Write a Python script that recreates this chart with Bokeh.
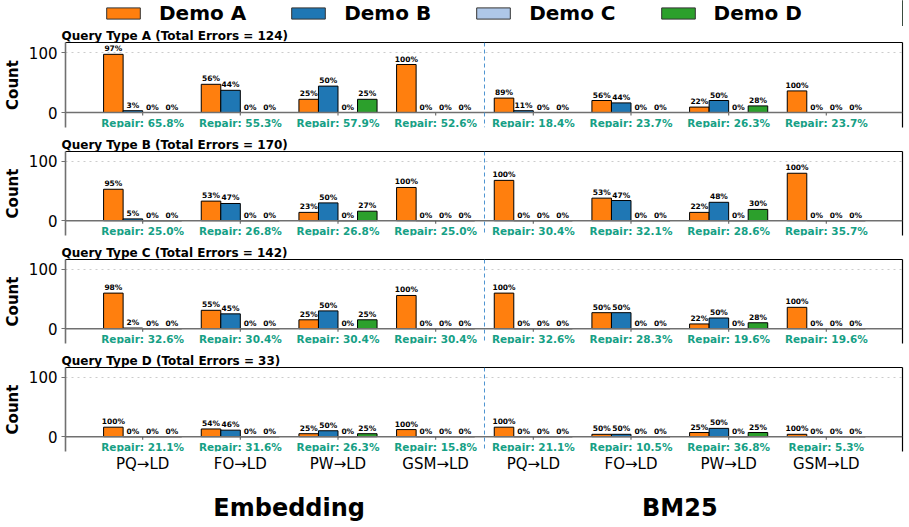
from bokeh.plotting import figure
from bokeh.layouts import column
from bokeh.models import (Range1d, FixedTicker, LinearAxis, Span, ColumnDataSource,
                          Legend, LegendItem)
from bokeh.embed import file_html
from bokeh.resources import INLINE
from bokeh.core.properties import value

FONT = "DejaVu Sans"

# ---------------- data ----------------
demo_names = ["Demo A", "Demo B", "Demo C", "Demo D"]
demo_colors = ["#ff7f0e", "#1f77b4", "#aec7e8", "#2ca02c"]
tick_labels = ["PQ→LD", "FO→LD", "PW→LD", "GSM→LD",
               "PQ→LD", "FO→LD", "PW→LD", "GSM→LD"]
method_labels = ["Embedding", "BM25"]

# Query Type A
qa_total = 124
qa_demo_a = [97, 47, 22, 80, 24, 20, 9, 36]
qa_demo_b = [3, 37, 44, 0, 3, 16, 20, 0]
qa_demo_c = [0, 0, 0, 0, 0, 0, 0, 0]
qa_demo_d = [0, 0, 22, 0, 0, 0, 11, 0]
qa_repair = [65.8, 55.3, 57.9, 52.6, 18.4, 23.7, 26.3, 23.7]

# Query Type B
qb_total = 170
qb_demo_a = [53, 33, 14, 56, 68, 38, 14, 80]
qb_demo_b = [3, 29, 30, 0, 0, 34, 31, 0]
qb_demo_c = [0, 0, 0, 0, 0, 0, 0, 0]
qb_demo_d = [0, 0, 16, 0, 0, 0, 19, 0]
qb_repair = [25.0, 26.8, 26.8, 25.0, 30.4, 32.1, 28.6, 35.7]

# Query Type C
qc_total = 142
qc_demo_a = [60, 31, 15, 56, 60, 27, 8, 36]
qc_demo_b = [1, 25, 30, 0, 0, 27, 18, 0]
qc_demo_c = [0, 0, 0, 0, 0, 0, 0, 0]
qc_demo_d = [0, 0, 15, 0, 0, 0, 10, 0]
qc_repair = [32.6, 30.4, 30.4, 30.4, 32.6, 28.3, 19.6, 19.6]

# Query Type D
qd_total = 33
qd_demo_a = [16, 13, 5, 12, 16, 4, 7, 4]
qd_demo_b = [0, 11, 10, 0, 0, 4, 14, 0]
qd_demo_c = [0, 0, 0, 0, 0, 0, 0, 0]
qd_demo_d = [0, 0, 5, 0, 0, 0, 7, 0]
qd_repair = [21.1, 31.6, 26.3, 15.8, 21.1, 10.5, 36.8, 5.3]

panels = [
    ("Query Type A", qa_total, [qa_demo_a, qa_demo_b, qa_demo_c, qa_demo_d], qa_repair),
    ("Query Type B", qb_total, [qb_demo_a, qb_demo_b, qb_demo_c, qb_demo_d], qb_repair),
    ("Query Type C", qc_total, [qc_demo_a, qc_demo_b, qc_demo_c, qc_demo_d], qc_repair),
    ("Query Type D", qd_total, [qd_demo_a, qd_demo_b, qd_demo_c, qd_demo_d], qd_repair),
]

# ---------------- style / layout ----------------
offsets = [-0.3, -0.1, 0.1, 0.3]
BAR_W = 0.2
group_pos = list(range(len(tick_labels)))
method_pos = [1.5, 5.5]
TEAL = "#16a085"
SPINE = "#707070"


def make_panel(name, total, counts, repair, height, border_top, border_bottom, last):
    p = figure(width=909, height=height,
               x_range=Range1d(-0.79, 7.78), y_range=Range1d(-25, 116.7),
               output_backend="svg", toolbar_location=None,
               x_axis_location=None, y_axis_location="left",
               min_border_left=62, min_border_right=7,
               min_border_top=border_top, min_border_bottom=border_bottom,
               title=f"{name} (Total Errors = {total})")
    p.outline_line_color = None
    p.background_fill_color = "white"
    p.border_fill_color = "white"
    p.title.text_font = FONT
    p.title.text_font_size = "12px"
    p.title.text_font_style = "bold"
    p.title.text_color = "black"
    p.title.align = "left"
    p.title.offset = -4
    p.title.standoff = 0

    # y axis
    ya = p.yaxis[0]
    ya.ticker = FixedTicker(ticks=[0, 100])
    ya.axis_label = "Count"
    ya.axis_label_text_font = FONT
    ya.axis_label_text_font_size = "15px"
    ya.axis_label_text_font_style = "bold"
    ya.axis_label_text_color = "black"
    ya.axis_label_standoff = 4
    ya.major_label_text_font = FONT
    ya.major_label_text_font_size = "15px"
    ya.major_label_text_color = "black"
    ya.major_label_standoff = 4
    ya.axis_line_color = SPINE
    ya.axis_line_width = 1.6
    ya.major_tick_line_color = SPINE
    ya.major_tick_out = 4
    ya.major_tick_in = 0
    ya.minor_tick_line_color = None

    p.xgrid.visible = False
    p.ygrid.ticker = FixedTicker(ticks=[100])
    p.ygrid.grid_line_color = "#cccccc"
    p.ygrid.grid_line_dash = "dotted"
    p.ygrid.grid_line_width = 1

    # top and right spines
    for side in ("above", "right"):
        ax = LinearAxis(ticker=FixedTicker(ticks=[]), axis_line_color="black",
                        axis_line_width=1.2, major_label_standoff=0,
                        major_tick_out=0, major_tick_in=0,
                        minor_tick_out=0, minor_tick_in=0)
        p.add_layout(ax, side)

    # zero spine with small ticks at group centres
    p.add_layout(Span(location=0, dimension="width", line_color=SPINE, line_width=1.6))
    p.segment(x0=group_pos, y0=[0] * len(group_pos), x1=group_pos,
              y1=[-5] * len(group_pos), line_color=SPINE, line_width=1.2)

    # bars and percent labels
    lx, ly, lt = [], [], []
    for k in range(len(demo_names)):
        xs = [g + offsets[k] for g in group_pos]
        src = ColumnDataSource(dict(x=xs, top=counts[k]))
        p.vbar(x="x", top="top", bottom=0, width=BAR_W, source=src,
               fill_color=demo_colors[k], line_color="black", line_width=1)
    for g in group_pos:
        s = sum(c[g] for c in counts)
        for k in range(len(demo_names)):
            v = counts[k][g]
            lx.append(g + offsets[k])
            ly.append(v)
            lt.append(f"{(100.0 * v / s if s else 0):.0f}%")
    p.text(x="x", y="y", text="t", source=ColumnDataSource(dict(x=lx, y=ly, t=lt)),
           text_font=value(FONT), text_font_size="7.5px", text_font_style="bold",
           text_color="black", text_align="center", text_baseline="bottom",
           y_offset=-1)

    # repair labels
    rsrc = ColumnDataSource(dict(x=group_pos, y=[-17] * len(group_pos),
                                 t=[f"Repair: {r:.1f}%" for r in repair]))
    p.text(x="x", y="y", text="t", source=rsrc, text_font=value(FONT),
           text_font_size="10.5px", text_font_style="bold", text_color=TEAL,
           text_align="center", text_baseline="middle")

    # separator between methods
    p.add_layout(Span(location=3.5, dimension="height", line_color="#4d94d1",
                      line_dash="4 3", line_width=1))

    if last:
        tax = LinearAxis(ticker=FixedTicker(ticks=group_pos),
                         major_label_overrides={i: t for i, t in zip(group_pos, tick_labels)},
                         axis_line_color=None, major_tick_line_color=None,
                         minor_tick_line_color=None, major_label_standoff=-3,
                         major_label_text_font=FONT, major_label_text_font_size="15px",
                         major_label_text_color="black")
        p.add_layout(tax, "below")
        max_ = LinearAxis(ticker=FixedTicker(ticks=method_pos),
                          major_label_overrides={m: t for m, t in zip(method_pos, method_labels)},
                          axis_line_color=None, major_tick_line_color=None,
                          minor_tick_line_color=None, major_label_standoff=12,
                          major_label_text_font=FONT, major_label_text_font_size="24px",
                          major_label_text_font_style="bold",
                          major_label_text_color="black")
        p.add_layout(max_, "below")
    return p


# ---------------- legend strip ----------------
lg = figure(width=909, height=26, x_range=Range1d(0, 1), y_range=Range1d(0, 1),
            output_backend="svg", toolbar_location=None,
            x_axis_location=None, y_axis_location=None, min_border=0)
lg.outline_line_color = None
lg.xgrid.visible = False
lg.ygrid.visible = False
items = []
for nm, col in zip(demo_names, demo_colors):
    # renderer kept outside the visible range: only its legend swatch is shown
    r = lg.vbar(x=[10], top=[10], width=0.1, fill_color=col, line_color="#333333",
                line_width=1)
    items.append(LegendItem(label=nm, renderers=[r]))
legend = Legend(items=items, orientation="horizontal", location=(37, 1),
                glyph_width=42, glyph_height=14, label_standoff=15, spacing=41,
                padding=0, margin=0, border_line_color=None, background_fill_alpha=0,
                label_text_font=FONT, label_text_font_style="bold",
                label_text_color="black",
                label_text_font_size="20px", label_height=20)
lg.add_layout(legend, "center")

specs = [(109, 16, 8, False), (108, 15, 8, False), (108, 15, 8, False), (176, 15, 76, True)]
figs = [lg]
for (nm, tot, cnts, rep), (h, bt, bb, last) in zip(panels, specs):
    figs.append(make_panel(nm, tot, cnts, rep, h, bt, bb, last))

layout = column(*figs, spacing=0)
open("out.html", "w").write(file_html(layout, INLINE))
